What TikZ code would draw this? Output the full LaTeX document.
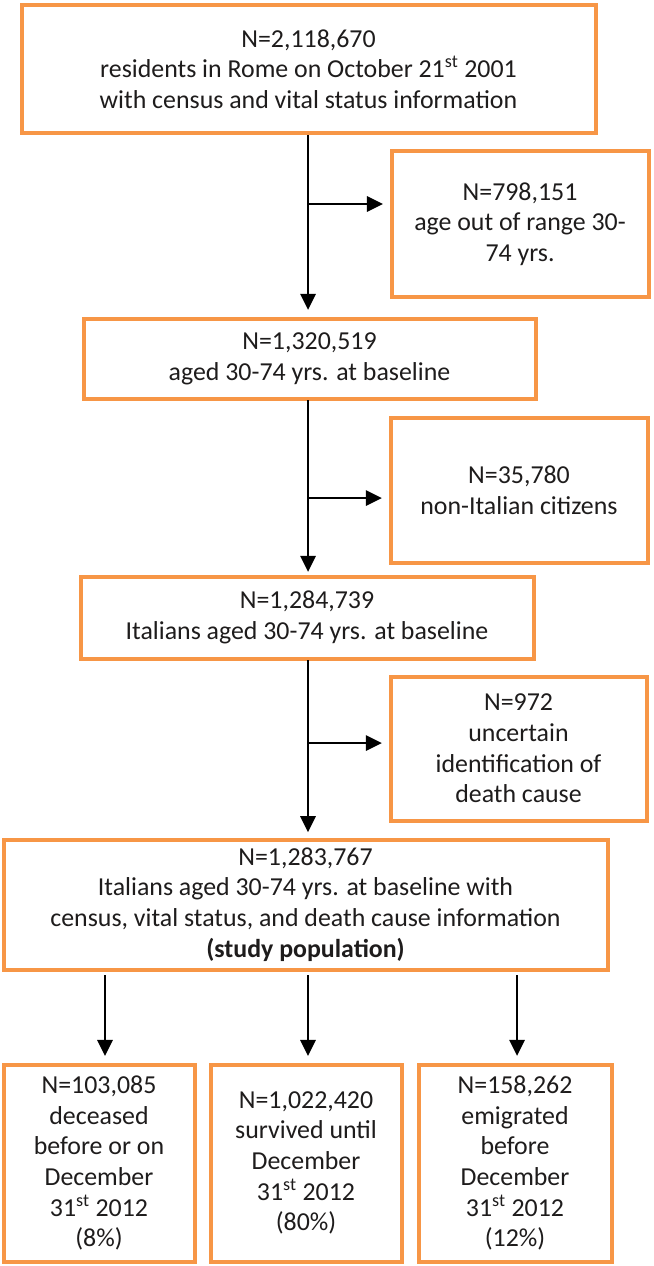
\documentclass[tikz,border=0pt]{standalone}
\usepackage{fontspec}
\setmainfont{Carlito}
\usetikzlibrary{arrows.meta}
\definecolor{boxorange}{RGB}{247,150,70}
\definecolor{txt}{RGB}{30,28,28}
\tikzset{
  box/.style={draw=boxorange, line width=3pt, fill=white, align=center, inner sep=0pt, text=txt,
    font=\fontsize{19.4}{23}\selectfont},
  arr/.style={draw=black, line width=1.6pt, -{Triangle[length=12pt,width=11.5pt]}}
}
\newcommand{\sth}{\textsuperscript{st}}
\begin{document}
\begin{tikzpicture}[x=0.75pt,y=-0.75pt]
\useasboundingbox (0,0) rectangle (653,1266);
% main column
\node[box, minimum width=574*0.75pt, minimum height=128*0.75pt] (b1) at (308.5,69)
  {N=2,118,670\\residents in Rome on October 21\sth{} 2001\\with census and vital status information};
\node[box, minimum width=257*0.75pt, minimum height=145*0.75pt] (s1) at (520,224)
  {N=798,151\\age out of range 30-\\74 yrs.};
\node[box, minimum width=452*0.75pt, minimum height=80*0.75pt] (b2) at (309.5,358.5)
  {N=1,320,519\\aged 30-74 yrs. at baseline};
\node[box, minimum width=257*0.75pt, minimum height=145*0.75pt] (s2) at (519,490)
  {N=35,780\\non-Italian citizens};
\node[box, minimum width=453*0.75pt, minimum height=82*0.75pt] (b3) at (307,617.5)
  {N=1,284,739\\Italians aged 30-74 yrs. at baseline};
\node[box, minimum width=256*0.75pt, minimum height=144*0.75pt] (s3) at (518.5,748.5)
  {N=972\\uncertain\\identification of\\death cause};
\node[box, minimum width=604*0.75pt, minimum height=130*0.75pt] (b4) at (305.5,904.5)
  {N=1,283,767\\Italians aged 30-74 yrs. at baseline with\\census, vital status, and death cause information\\\textbf{(study population)}};
\node[box, minimum width=191*0.75pt, minimum height=197*0.75pt] (oa) at (99,1163)
  {N=103,085\\deceased\\before or on\\December\\31\sth{} 2012\\(8\%)};
\node[box, minimum width=191*0.75pt, minimum height=197*0.75pt] (ob) at (306,1163)
  {N=1,022,420\\survived until\\December\\31\sth{} 2012\\(80\%)};
\node[box, minimum width=193*0.75pt, minimum height=197*0.75pt] (oc) at (515,1163)
  {N=158,262\\emigrated\\before\\December\\31\sth{} 2012\\(12\%)};
% junctions
\coordinate (t1) at (308,135);
\coordinate (j1) at (308,204);
\coordinate (t2) at (308,400);
\coordinate (j2) at (308,498);
\coordinate (t3) at (308,660);
\coordinate (j3) at (308,743);
% main arrows
\draw[arr, shorten >=5pt] (t1) -- (t1 |- b2.north);
\draw[arr, shorten >=5pt] (j1) -- (j1 -| s1.west);
\draw[arr, shorten >=2pt] (t2) -- (t2 |- b3.north);
\draw[arr, shorten >=5pt] (j2) -- (j2 -| s2.west);
\draw[arr, shorten >=4pt] (t3) -- (t3 |- b4.north);
\draw[arr, shorten >=5pt] (j3) -- (j3 -| s3.west);
% outcome arrows
\coordinate (ua) at (105,975);
\coordinate (ub) at (308,975);
\coordinate (uc) at (517,975);
\draw[arr, shorten >=5pt] (ua) -- (ua |- oa.north);
\draw[arr, shorten >=5pt] (ub) -- (ub |- ob.north);
\draw[arr, shorten >=5pt] (uc) -- (uc |- oc.north);
\end{tikzpicture}
\end{document}
